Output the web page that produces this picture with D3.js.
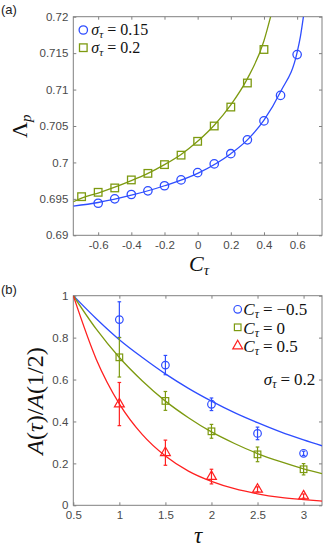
<!DOCTYPE html>
<meta charset="utf-8">
<style>
body { margin: 0; background: #fff; }
.tick text { font-family: "Liberation Sans", Arial, sans-serif; font-size: 11.5px; fill: #4a4a4a; }
.tick line { stroke: #808080; }
.frame { fill: none; stroke: #808080; stroke-width: 1; }
.math { font-family: "Liberation Serif", "DejaVu Serif", serif; fill: #111; }
.plabel { font-family: "Liberation Sans", Arial, sans-serif; font-size: 13px; fill: #222; }
.fit { fill: none; stroke-width: 1.3; }
</style>
<body>
<script src="https://cdn.jsdelivr.net/npm/d3@7"></script>
<script>
// ---- panel (a) data ----
var circC = [-0.6, -0.5, -0.4, -0.3, -0.2, -0.1, 0, 0.1, 0.2, 0.3, 0.4, 0.5, 0.6];
var circL = [0.6944, 0.6950, 0.6956, 0.6961, 0.6968, 0.6976, 0.6986, 0.6998, 0.7012, 0.7031, 0.7057, 0.7092, 0.7148];
var sqC = [-0.7, -0.6, -0.5, -0.4, -0.3, -0.2, -0.1, 0, 0.1, 0.2, 0.3, 0.4];
var sqL = [0.6953, 0.6959, 0.6965, 0.6976, 0.6985, 0.6997, 0.7010, 0.7029, 0.7050, 0.7076, 0.7109, 0.7155];
var fitBlueC = [-0.75, -0.6, -0.4, -0.2, 0, 0.2, 0.3, 0.4, 0.5, 0.6, 0.62, 0.638];
var fitBlueL = [0.6940, 0.6945, 0.6955, 0.6968, 0.6985, 0.7012, 0.7031, 0.7058, 0.7097, 0.7151, 0.7173, 0.7200];
var fitGreenC = [-0.75, -0.7, -0.6, -0.5, -0.4, -0.3, -0.2, -0.1, 0, 0.1, 0.2, 0.3, 0.4, 0.42, 0.44];
var fitGreenL = [0.6946, 0.6951, 0.6958, 0.6966, 0.6975, 0.6985, 0.6997, 0.7011, 0.7029, 0.7051, 0.7079, 0.7115, 0.7167, 0.7183, 0.7200];
var aTicksX = [-0.6, -0.4, -0.2, 0, 0.2, 0.4, 0.6];
var aTicksY = [0.69, 0.695, 0.7, 0.705, 0.71, 0.715, 0.72];

// ---- panel (b) data ----
var tau = [1, 1.5, 2, 2.5, 3];
var blueA = [0.886, 0.669, 0.482, 0.343, 0.248];
var blueE = [0.085, 0.046, 0.03, 0.03, 0.01];
var greenA = [0.706, 0.498, 0.353, 0.243, 0.172];
var greenE = [0.094, 0.045, 0.033, 0.035, 0.027];
var redA = [0.483, 0.251, 0.137, 0.076, 0.044];
var redE = [0.103, 0.06, 0.035, 0.012, 0.01];
var fitTau = [0.5, 0.75, 1, 1.25, 1.5, 1.75, 2, 2.25, 2.5, 2.75, 3, 3.2];
var fitBlueA = [1, 0.89, 0.79, 0.705, 0.627, 0.558, 0.497, 0.442, 0.394, 0.35, 0.312, 0.284];
var fitGreenA = [1, 0.84, 0.705, 0.593, 0.497, 0.418, 0.35, 0.295, 0.247, 0.208, 0.174, 0.151];
var fitRedA = [1, 0.696, 0.484, 0.337, 0.235, 0.163, 0.114, 0.079, 0.055, 0.038, 0.027, 0.02];
var bTicksX = [0.5, 1, 1.5, 2, 2.5, 3];
var bTicksY = [0, 0.2, 0.4, 0.6, 0.8, 1];

var blue = "#2e4dff", green = "#7d9a10", red = "#ff2020";

var svg = d3.select("body").append("svg")
    .attr("width", 332)
    .attr("height", 553);

function frame(g, x, y, ticksX, ticksY) {
  var w = x.range()[1] - x.range()[0], h = y.range()[0] - y.range()[1];
  g.append("g").attr("transform", "translate(0," + h + ")")
    .call(d3.axisBottom(x).tickValues(ticksX).tickSize(-3).tickPadding(6).tickFormat(function(d) { return String(d); }));
  g.append("g")
    .call(d3.axisTop(x).tickValues(ticksX).tickSize(-3).tickFormat(""));
  g.append("g")
    .call(d3.axisLeft(y).tickValues(ticksY).tickSize(-3).tickPadding(5).tickFormat(function(d) { return String(d); }));
  g.append("g").attr("transform", "translate(" + w + ",0)")
    .call(d3.axisRight(y).tickValues(ticksY).tickSize(-3).tickFormat(""));
  g.selectAll(".domain").remove();
  g.append("rect").attr("class", "frame").attr("width", w).attr("height", h);
}

function pairs(xs, ys) { return xs.map(function(v, i) { return [v, ys[i]]; }); }

// ================= panel (a) =================
var ax = d3.scaleLinear().domain([-0.75, 0.75]).range([0, 248.7]);
var ay = d3.scaleLinear().domain([0.69, 0.72]).range([218.6, 0]);
var ga = svg.append("g").attr("transform", "translate(73.3,16.7)");

ga.append("clipPath").attr("id", "clipA").append("rect").attr("width", 248.7).attr("height", 218.6);
frame(ga, ax, ay, aTicksX, aTicksY);

var lineA = d3.line().x(function(d) { return ax(d[0]); }).y(function(d) { return ay(d[1]); }).curve(d3.curveMonotoneX);
ga.append("path").attr("class", "fit").attr("clip-path", "url(#clipA)")
  .attr("d", lineA(pairs(fitBlueC, fitBlueL))).attr("stroke", blue);
ga.append("path").attr("class", "fit").attr("clip-path", "url(#clipA)")
  .attr("d", lineA(pairs(fitGreenC, fitGreenL))).attr("stroke", green);

ga.selectAll(".circ").data(pairs(circC, circL)).enter().append("circle")
  .attr("cx", function(d) { return ax(d[0]); })
  .attr("cy", function(d) { return ay(d[1]); })
  .attr("r", 4.2).attr("fill", "none").attr("stroke", blue).attr("stroke-width", 1.3);
ga.selectAll(".sq").data(pairs(sqC, sqL)).enter().append("rect")
  .attr("x", function(d) { return ax(d[0]) - 3.8; })
  .attr("y", function(d) { return ay(d[1]) - 3.8; })
  .attr("width", 7.6).attr("height", 7.6)
  .attr("fill", "none").attr("stroke", green).attr("stroke-width", 1.3);

// legend (a)
ga.append("circle").attr("cx", 10).attr("cy", 13.3).attr("r", 4.2)
  .attr("fill", "none").attr("stroke", blue).attr("stroke-width", 1.3);
ga.append("rect").attr("x", 6.2).attr("y", 27.2).attr("width", 7.6).attr("height", 7.6)
  .attr("fill", "none").attr("stroke", green).attr("stroke-width", 1.3);

function sigmaLabel(g, x, y, val, size, anchor) {
  var t = g.append("text").attr("class", "math").attr("x", x).attr("y", y)
    .attr("text-anchor", anchor || "start").style("font-size", size + "px");
  t.append("tspan").style("font-style", "italic").text("σ");
  t.append("tspan").style("font-style", "italic").style("font-size", (size * 0.7) + "px").attr("dy", 3).text("τ");
  t.append("tspan").attr("dy", -3).attr("dx", 4).text("=");
  t.append("tspan").attr("dx", 4).text(val);
  return t;
}
sigmaLabel(ga, 18, 18.5, "0.15", 16);
sigmaLabel(ga, 18, 36.5, "0.2", 16);

// axis labels (a)
var cl = svg.append("text").attr("class", "math").attr("x", 189).attr("y", 271).style("font-size", "22px");
cl.append("tspan").style("font-style", "italic").text("C");
cl.append("tspan").style("font-style", "italic").style("font-size", "15px").attr("dy", 4).text("τ");

var ll = svg.append("text").attr("class", "math")
  .attr("transform", "translate(27,138)rotate(-90)").style("font-size", "22px");
ll.append("tspan").text("Λ");
ll.append("tspan").style("font-style", "italic").style("font-size", "15px").attr("dy", 4).text("p");

svg.append("text").attr("class", "plabel").attr("x", 1).attr("y", 14).text("(a)");

// ================= panel (b) =================
var bx = d3.scaleLinear().domain([0.5, 3.2]).range([0, 248.7]);
var by = d3.scaleLinear().domain([0, 1]).range([209.6, 0]);
var gb = svg.append("g").attr("transform", "translate(73.3,295.7)");

gb.append("clipPath").attr("id", "clipB").append("rect").attr("width", 248.7).attr("height", 209.6);
frame(gb, bx, by, bTicksX, bTicksY);

var lineB = d3.line().x(function(d) { return bx(d[0]); }).y(function(d) { return by(d[1]); }).curve(d3.curveMonotoneX);
[[fitBlueA, blue], [fitGreenA, green], [fitRedA, red]].forEach(function(s) {
  gb.append("path").attr("class", "fit").attr("clip-path", "url(#clipB)")
    .attr("d", lineB(pairs(fitTau, s[0]))).attr("stroke", s[1]);
});

function errbars(vals, errs, color) {
  var d = tau.map(function(t, i) { return {t: t, v: vals[i], e: errs[i]}; });
  var g = gb.append("g").attr("stroke", color).attr("stroke-width", 1.2);
  g.selectAll("line.v").data(d).enter().append("line")
    .attr("x1", function(d) { return bx(d.t); }).attr("x2", function(d) { return bx(d.t); })
    .attr("y1", function(d) { return by(d.v - d.e); }).attr("y2", function(d) { return by(d.v + d.e); });
  g.selectAll("line.top").data(d).enter().append("line")
    .attr("x1", function(d) { return bx(d.t) - 1.8; }).attr("x2", function(d) { return bx(d.t) + 1.8; })
    .attr("y1", function(d) { return by(d.v + d.e); }).attr("y2", function(d) { return by(d.v + d.e); });
  g.selectAll("line.bot").data(d).enter().append("line")
    .attr("x1", function(d) { return bx(d.t) - 1.8; }).attr("x2", function(d) { return bx(d.t) + 1.8; })
    .attr("y1", function(d) { return by(d.v - d.e); }).attr("y2", function(d) { return by(d.v - d.e); });
}
errbars(blueA, blueE, blue);
errbars(greenA, greenE, green);
errbars(redA, redE, red);

var triangle = d3.symbol().type(d3.symbolTriangle).size(42);

gb.selectAll(".bc").data(pairs(tau, blueA)).enter().append("circle")
  .attr("cx", function(d) { return bx(d[0]); }).attr("cy", function(d) { return by(d[1]); })
  .attr("r", 3.8).attr("fill", "none").attr("stroke", blue).attr("stroke-width", 1.2);
gb.selectAll(".gs").data(pairs(tau, greenA)).enter().append("rect")
  .attr("x", function(d) { return bx(d[0]) - 3.3; }).attr("y", function(d) { return by(d[1]) - 3.3; })
  .attr("width", 6.6).attr("height", 6.6)
  .attr("fill", "none").attr("stroke", green).attr("stroke-width", 1.2);
gb.selectAll(".rt").data(pairs(tau, redA)).enter().append("path")
  .attr("transform", function(d) { return "translate(" + bx(d[0]) + "," + by(d[1]) + ")"; })
  .attr("d", triangle).attr("fill", "none").attr("stroke", red).attr("stroke-width", 1.2);

// legend (b)
gb.append("circle").attr("cx", 164.4).attr("cy", 13.6).attr("r", 3.8)
  .attr("fill", "none").attr("stroke", blue).attr("stroke-width", 1.2);
gb.append("rect").attr("x", 161.1).attr("y", 28.3).attr("width", 6.6).attr("height", 6.6)
  .attr("fill", "none").attr("stroke", green).attr("stroke-width", 1.2);
gb.append("path").attr("transform", "translate(164.4,50.3)").attr("d", triangle)
  .attr("fill", "none").attr("stroke", red).attr("stroke-width", 1.2);

function cLabel(g, x, y, val) {
  var t = g.append("text").attr("class", "math").attr("x", x).attr("y", y).style("font-size", "17px");
  t.append("tspan").style("font-style", "italic").text("C");
  t.append("tspan").style("font-style", "italic").style("font-size", "12px").attr("dy", 3).text("τ");
  t.append("tspan").attr("dy", -3).attr("dx", 4).text("=");
  t.append("tspan").attr("dx", 4).text(val);
}
cLabel(gb, 170, 19.5, "\u22120.5");
cLabel(gb, 170, 38, "0");
cLabel(gb, 170, 56.5, "0.5");

sigmaLabel(gb, 242, 89, "0.2", 17, "end");

// axis labels (b)
svg.append("text").attr("class", "math").attr("x", 194).attr("y", 543)
  .style("font-size", "23px").style("font-style", "italic").text("τ");

var al = svg.append("text").attr("class", "math")
  .attr("transform", "translate(43,401)rotate(-90)")
  .attr("text-anchor", "middle").style("font-size", "24px");
al.append("tspan").style("font-style", "italic").text("A");
al.append("tspan").text("(");
al.append("tspan").style("font-style", "italic").text("τ");
al.append("tspan").text(")/");
al.append("tspan").style("font-style", "italic").text("A");
al.append("tspan").text("(1/2)");

svg.append("text").attr("class", "plabel").attr("x", 1).attr("y", 294).text("(b)");
</script>
</body>
